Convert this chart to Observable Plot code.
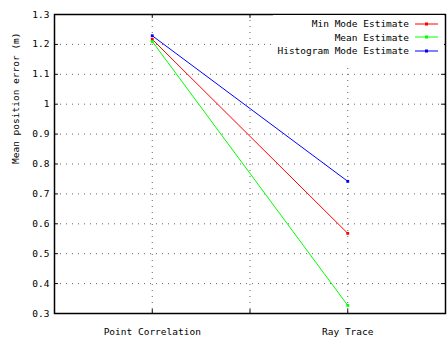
<!DOCTYPE html>
<html><head><meta charset="utf-8">
<script src="https://cdn.jsdelivr.net/npm/d3@7"></script>
<script src="https://cdn.jsdelivr.net/npm/@observablehq/plot@0.6"></script>
<style>
body{margin:0;background:#fff;}
#wrap{position:relative;width:447px;height:339px;font-family:"DejaVu Sans Mono",monospace;}
#legend{position:absolute;right:3px;top:15px;padding:2px 6px 7px 4px;background:#fff;font-size:9.5px;line-height:13.5px;}
#legend div{display:flex;align-items:center;justify-content:flex-end;}
#legend svg{margin-left:6px;}
</style>
</head><body>
<div id="wrap"><div id="legend"></div></div>
<script>
const categories = ["Point Correlation", "Ray Trace"];
const categoryPos = [1, 3];
const seriesNames = ["Min Mode Estimate", "Mean Estimate", "Histogram Mode Estimate"];
const seriesColors = ["#ff0000", "#00ff00", "#0000ff"];
const minMode = [1.217, 0.568];
const meanEst = [1.210, 0.327];
const histMode = [1.229, 0.742];
const yTicks = [0.3, 0.4, 0.5, 0.6, 0.7, 0.8, 0.9, 1, 1.1, 1.2, 1.3];
const xTicks = [1, 2, 3];

const seriesValues = [minMode, meanEst, histMode];
const data = [];
seriesNames.forEach((s, i) => categories.forEach((c, j) => data.push({series: s, x: categoryPos[j], y: seriesValues[i][j]})));

const xLabel = v => { const k = categoryPos.indexOf(v); return k >= 0 ? categories[k] : ""; };

const chart = Plot.plot({
  width: 447, height: 339,
  marginLeft: 54, marginRight: 2, marginTop: 14, marginBottom: 26,
  style: {fontFamily: "DejaVu Sans Mono, monospace", fontSize: "9.5px", background: "#fff"},
  x: {domain: [0, 4], ticks: xTicks, tickFormat: xLabel, label: null},
  y: {domain: [0.3, 1.3], ticks: yTicks, label: null},
  color: {domain: seriesNames, range: seriesColors},
  marks: [
    Plot.ruleY(yTicks.slice(1, -1), {stroke: "#666", strokeWidth: 1, strokeDasharray: "1,5"}),
    Plot.ruleX(xTicks, {stroke: "#666", strokeWidth: 1, strokeDasharray: "1,5"}),
    Plot.axisY(yTicks, {tickSize: 0, tickPadding: 5, tickFormat: d => String(d), fill: "#000", fontSize: "9.5px", label: null}),
    Plot.axisX(xTicks, {tickSize: 0, tickPadding: 15, tickFormat: xLabel, fill: "#000", fontSize: "9.5px", label: null}),
    Plot.ruleY(yTicks, {x1: 0, x2: 0.04, stroke: "#000"}),
    Plot.ruleY(yTicks, {x1: 3.96, x2: 4, stroke: "#000"}),
    Plot.ruleX(xTicks, {y1: 0.3, y2: 0.313, stroke: "#000"}),
    Plot.ruleX(xTicks, {y1: 1.287, y2: 1.3, stroke: "#000"}),
    Plot.line(data, {x: "x", y: "y", z: "series", stroke: "series", strokeWidth: 1}),
    Plot.dot(data, {x: "x", y: "y", fill: "series", r: 1.6, symbol: "square"}),
    Plot.frame({stroke: "#000", strokeWidth: 1.5}),
    Plot.text(["Mean position error (m)"], {frameAnchor: "left", dx: -39, rotate: -90, fontSize: "9.5px", fill: "#000"})
  ]
});
const wrap = document.getElementById("wrap");
wrap.insertBefore(chart, wrap.firstChild);

const legend = document.getElementById("legend");
seriesNames.forEach((s, i) => {
  const row = document.createElement("div");
  row.innerHTML = `<span>${s}</span><svg width="23" height="6"><line x1="0" y1="3" x2="23" y2="3" stroke="${seriesColors[i]}" stroke-width="1"/><rect x="10" y="1.5" width="3" height="3" fill="${seriesColors[i]}"/></svg>`;
  legend.appendChild(row);
});
</script>
</body></html>
